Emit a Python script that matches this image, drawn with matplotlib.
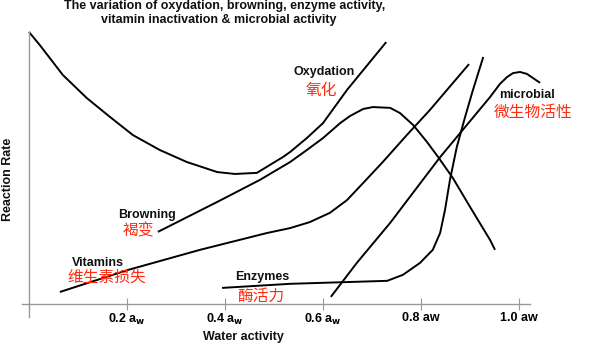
import matplotlib.pyplot as plt

# water activity (aw) / reaction rate (0-100, arbitrary)
oxy_aw = [0.0, 0.022, 0.069, 0.118, 0.165, 0.212, 0.267, 0.322, 0.384, 0.420, 0.465,
          0.518, 0.533, 0.567, 0.600, 0.649, 0.729]
oxy_rate = [100, 95.2, 84.2, 75.7, 68.8, 62.1, 56.6, 52.2, 48.5, 47.8, 48.2,
            54.0, 55.9, 61.0, 66.5, 78.7, 96.3]

brown_aw = [0.263, 0.384, 0.471, 0.533, 0.567, 0.600, 0.635, 0.655, 0.682, 0.702, 0.737,
            0.757, 0.784, 0.812, 0.835, 0.865, 0.900, 0.941, 0.951]
brown_rate = [26.5, 37.5, 45.6, 52.2, 56.6, 61.0, 66.5, 69.1, 71.7, 72.4, 72.1,
              70.2, 65.8, 59.6, 54.0, 46.3, 35.7, 23.5, 19.9]

vit_aw = [0.063, 0.202, 0.349, 0.486, 0.533, 0.573, 0.614, 0.649, 0.682, 0.722, 0.771,
          0.818, 0.853, 0.898]
vit_rate = [4.4, 12.5, 19.9, 26.1, 27.9, 30.1, 33.5, 38.2, 44.5, 52.2, 62.1,
            71.3, 78.7, 88.2]

enz_aw = [0.394, 0.533, 0.731, 0.763, 0.798, 0.824, 0.839, 0.849, 0.859, 0.873, 0.890,
          0.906, 0.927]
enz_rate = [5.9, 7.4, 8.5, 10.7, 15.1, 19.9, 26.1, 34.6, 45.6, 57.7, 68.8,
            78.7, 90.8]

mic_aw = [0.616, 0.669, 0.737, 0.839, 0.941, 0.961, 0.976, 0.988, 1.002, 1.016, 1.043]
mic_rate = [2.6, 15.1, 29.8, 54.0, 76.1, 80.9, 83.5, 84.9, 85.3, 84.6, 81.3]

ticks = [0.2, 0.4, 0.6, 0.8, 1.0]
tick_labels = [r"0.2 a$_\mathbf{w}$", r"0.4 a$_\mathbf{w}$", r"0.6 a$_\mathbf{w}$", "0.8 aw", "1.0 aw"]

W, H = 612, 348
fig = plt.figure(figsize=(W / 100, H / 100), dpi=100)
ax = fig.add_axes([22 / W, 31 / H, 508 / W, 285 / H])

for xs, ys in [(oxy_aw, oxy_rate), (brown_aw, brown_rate), (vit_aw, vit_rate),
               (enz_aw, enz_rate), (mic_aw, mic_rate)]:
    ax.plot(xs, ys, color="black", lw=1.4, clip_on=False,
            solid_capstyle="butt", solid_joinstyle="round")

ax.set_xlim(-0.0143, 1.0224)
ax.set_ylim(-4.8, 100)
ax.spines["left"].set_position(("data", 0))
ax.spines["bottom"].set_position(("data", 0))
for s in ["top", "right"]:
    ax.spines[s].set_visible(False)
for s in ["left", "bottom"]:
    ax.spines[s].set_color("#999999")
    ax.spines[s].set_linewidth(1.0)
ax.set_yticks([])
ax.set_xticks(ticks)
ax.set_xticklabels(tick_labels, fontfamily="Liberation Sans", fontweight="bold", fontsize=9)
ax.tick_params(axis="x", direction="inout", length=9, color="#999999", pad=1.5)

def ftext(x, y, s, **kw):
    fig.text(x / W, 1 - y / H, s, ha="center", va="center", **kw)

bold = dict(fontfamily="Liberation Sans", fontweight="bold", fontsize=9, color="#111111")
red = dict(fontfamily=["Noto Sans CJK SC", "DejaVu Sans"], fontsize=11.3, color="#ff2a10")

ftext(225, 6, "The variation of oxydation, browning, enzyme activity,", **bold)
ftext(219, 20, "vitamin inactivation & microbial activity", **bold)

ftext(324, 72, "Oxydation", **bold)
ftext(321, 90, "氧化", **red)
ftext(147, 215, "Browning", **bold)
ftext(138, 231, "褐变", **red)
ftext(98, 263, "Vitamins", **bold)
ftext(107, 277, "维生素损失", **red)
ftext(262, 277, "Enzymes", **bold)
ftext(261, 296, "酶活力", **red)
ftext(527, 95, "microbial", **bold)
ftext(533, 112, "微生物活性", **red)

ftext(243, 337, "Water activity", **bold)
ftext(8, 179, "Reaction Rate", rotation=90, **bold)

fig.savefig("out.png", dpi=100)
